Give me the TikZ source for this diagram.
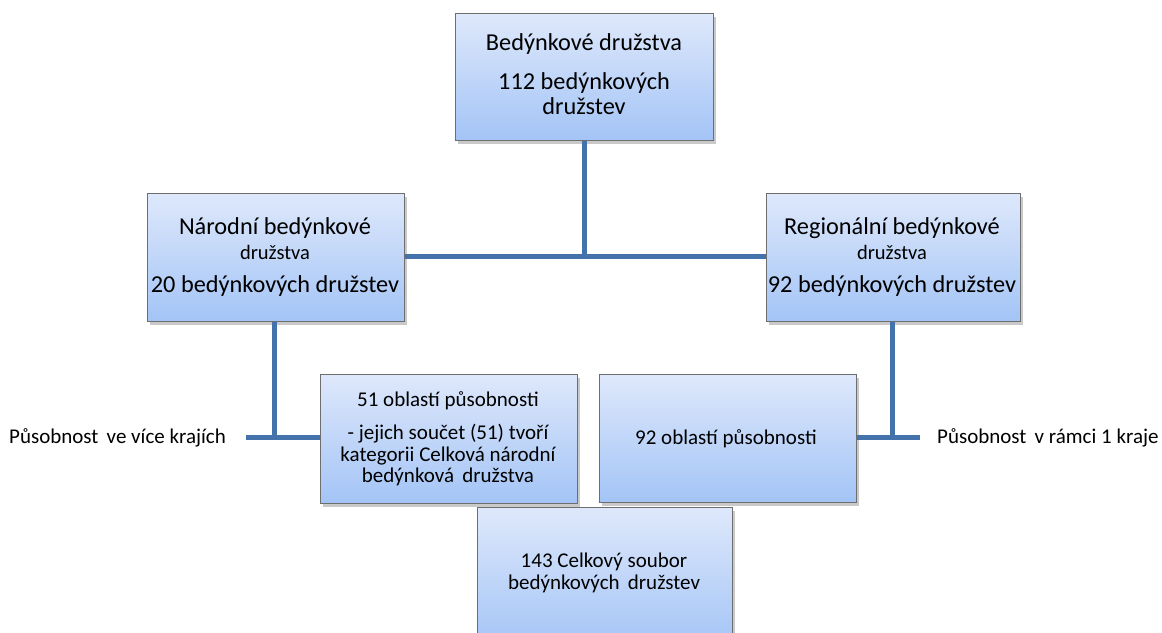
\documentclass[tikz,border=0pt]{standalone}
\usepackage{fontspec}
\setmainfont{Carlito}
\usetikzlibrary{shadows}
\definecolor{boxtop}{RGB}{222,232,251}
\definecolor{boxbot}{RGB}{163,196,246}
\definecolor{boxedge}{RGB}{110,110,110}
\definecolor{linkc}{RGB}{68,114,170}
\tikzset{
  boxnode/.style={draw=boxedge, line width=1.2pt, top color=boxtop, bottom color=boxbot,
    rectangle, inner sep=0pt, anchor=north west,
    drop shadow={shadow xshift=2pt, shadow yshift=-3pt, opacity=0.35, fill=black!60}},
  big/.style={font=\fontsize{24.3}{28}\selectfont, inner sep=0pt},
  mid/.style={font=\fontsize{21}{25}\selectfont, inner sep=0pt},
  small/.style={font=\fontsize{20.5}{24}\selectfont, inner sep=0pt},
  link/.style={draw=linkc, line width=5pt}
}
\begin{document}
\begin{tikzpicture}[x=1pt,y=-1pt]
\clip (0,0) rectangle (1162,632);
\fill[white] (0,0) rectangle (1162,632);
% boxes
\node[boxnode, minimum width=258pt, minimum height=127pt] (top) at (455,13) {};
\node[boxnode, minimum width=257pt, minimum height=128pt] (nar) at (147,193) {};
\node[boxnode, minimum width=254pt, minimum height=128pt] (reg) at (766,193) {};
\node[boxnode, minimum width=257pt, minimum height=129pt] (obl51) at (320,374) {};
\node[boxnode, minimum width=257pt, minimum height=128pt] (obl92) at (599,374) {};
\node[boxnode, minimum width=255pt, minimum height=140pt] (total) at (477,507) {};
% texts
\node[big] (t1) at (584,44) {Bedýnkové družstva};
\node[big] (t2) at (584,83) {112 bedýnkových};
\node[big] (t3) at (584,106) {družstev};
\node[big] (n1) at (275,228) {Národní bedýnkové};
\node[small] (n2) at (275,252) {družstva};
\node[big] (n3) at (275,286) {20 bedýnkových družstev};
\node[big] (r1) at (892,228) {Regionální bedýnkové};
\node[small] (r2) at (892,252) {družstva};
\node[big] (r3) at (892,286) {92 bedýnkových družstev};
\node[mid] (a1) at (448,401) {51 oblastí působnosti};
\node[mid] (a2) at (448,434) {- jejich součet (51) tvoří};
\node[mid] (a3) at (448,456) {kategorii Celková národní};
\node[mid] (a4) at (448,477) {bedýnková\, družstva};
\node[mid] (b1) at (726,439) {92 oblastí působnosti};
\node[mid] (c1) at (604,562) {143 Celkový soubor};
\node[mid] (c2) at (604,584) {bedýnkových\, družstev};
\node[mid, anchor=west] (lt) at (9,438) {Působnost\, ve více krajích};
\node[mid, anchor=west] (rt) at (937,438) {Působnost\, v rámci 1 kraje};
% connectors
\coordinate (hub) at (top.south |- 0,256.5);
\coordinate (lj) at (274,437);
\coordinate (rj) at (892,437);
\coordinate (lend) at (246,437);
\coordinate (rend) at (920,437);
\draw[link] (top.south) -- (hub);
\draw[link] (nar.east |- hub) -- (reg.west |- hub);
\draw[link] (nar.south -| lj) -- (lj);
\draw[link] (lend) -- (obl51.west |- lj);
\draw[link] (reg.south -| rj) -- (rj);
\draw[link] (obl92.east |- rj) -- (rend);
\end{tikzpicture}
\end{document}
